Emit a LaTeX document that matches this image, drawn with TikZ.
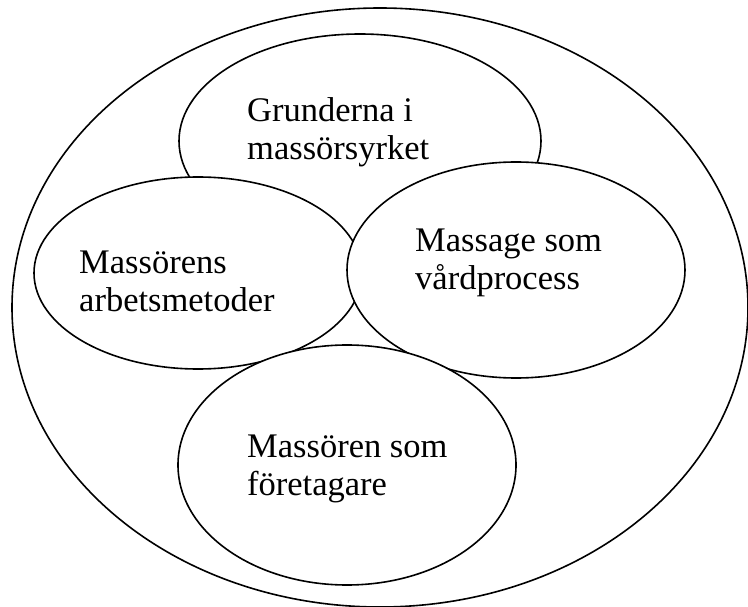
\documentclass[tikz,border=0pt]{standalone}
\usepackage{fontspec}
\setmainfont{Liberation Serif}
\usetikzlibrary{shapes.geometric}
\tikzset{
  blob/.style={draw=black, fill=white, line width=1.6pt, ellipse, inner sep=0pt, outer sep=0pt},
  label/.style={anchor=base west, inner sep=0pt, font=\fontsize{34.5}{38.5}\selectfont, align=left}
}
\begin{document}
\begin{tikzpicture}[x=1pt,y=-1pt]
\useasboundingbox (0,0) rectangle (748,607);
\node[blob, minimum width=736pt, minimum height=599pt] (outer) at (380,307.5) {};
\node[blob, minimum width=362pt, minimum height=214pt] (top) at (360,141) {};
\node[blob, minimum width=328pt, minimum height=192pt] (left) at (198,273) {};
\node[blob, minimum width=338pt, minimum height=216pt] (right) at (516,270) {};
\node[blob, minimum width=338pt, minimum height=240pt] (bottom) at (347,465) {};
\node[label] (t1) at (247,122) {Grunderna i};
\node[label] (t2) at (247,159.5) {massörsyrket};
\node[label] (l1) at (79,273) {Massörens};
\node[label] (l2) at (79,312) {arbetsmetoder};
\node[label] (r1) at (415,252) {Massage som};
\node[label] (r2) at (415,290) {vårdprocess};
\node[label] (b1) at (247,457) {Massören som};
\node[label] (b2) at (247,495) {företagare};
\end{tikzpicture}
\end{document}
